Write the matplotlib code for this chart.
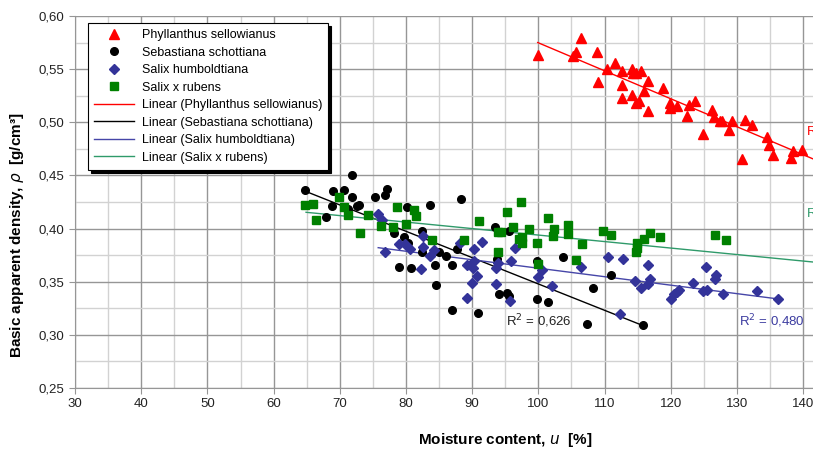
import matplotlib.pyplot as plt
import numpy as np
from matplotlib.ticker import MultipleLocator, FuncFormatter

plt.rcParams['font.family'] = ['Liberation Sans', 'DejaVu Sans']

# Phyllanthus sellowianus
phyl_u = [99.9, 106.5, 105.7, 105.3, 108.8, 109.0, 111.6, 110.4, 112.7, 114.2,
          112.7, 112.7, 114.2, 114.8, 115.5, 114.3, 115.2, 114.8, 116.6, 116.6,
          116.0, 118.9, 119.9, 119.9, 120.9, 122.7, 123.7, 122.5, 124.9, 126.2,
          126.6, 127.4, 127.7, 129.3, 128.8, 130.7, 131.2, 132.2, 134.5, 134.9,
          135.5, 138.1, 138.5, 139.8]
phyl_rho = [0.563, 0.579, 0.566, 0.562, 0.566, 0.538, 0.556, 0.550, 0.548, 0.550,
            0.535, 0.523, 0.526, 0.546, 0.548, 0.546, 0.520, 0.518, 0.539, 0.511,
            0.529, 0.532, 0.518, 0.513, 0.515, 0.516, 0.520, 0.506, 0.489, 0.512,
            0.505, 0.501, 0.501, 0.501, 0.493, 0.465, 0.502, 0.497, 0.486, 0.479,
            0.469, 0.466, 0.473, 0.474]

# Sebastiana schottiana
seba_u = [64.7, 69.0, 70.6, 71.9, 71.8, 68.8, 67.9, 71.3, 72.6, 72.9,
          75.3, 76.8, 77.2, 80.2, 83.6, 88.3, 82.4, 78.2, 79.7, 80.3,
          79.0, 80.7, 82.4, 84.4, 84.5, 85.0, 86.0, 86.9, 87.7, 87.0,
          90.9, 93.5, 95.5, 93.7, 94.0, 95.3, 95.6, 99.8, 99.8, 101.5,
          103.7, 107.4, 108.2, 111.0, 115.8]
seba_rho = [0.436, 0.435, 0.436, 0.450, 0.430, 0.421, 0.411, 0.418, 0.421, 0.422,
            0.430, 0.432, 0.437, 0.420, 0.422, 0.428, 0.398, 0.396, 0.392, 0.386,
            0.364, 0.363, 0.378, 0.366, 0.347, 0.378, 0.374, 0.366, 0.381, 0.323,
            0.321, 0.401, 0.398, 0.371, 0.338, 0.339, 0.337, 0.369, 0.334, 0.331,
            0.373, 0.310, 0.344, 0.356, 0.309]

# Salix humboldtiana
sahu_u = [75.7, 76.3, 76.8, 79.0, 79.8, 80.6, 82.5, 82.6, 82.3, 84.3,
          83.7, 88.2, 89.2, 89.9, 89.2, 90.2, 90.8, 91.5, 90.1, 90.3,
          93.6, 93.9, 93.6, 95.8, 95.7, 96.4, 99.9, 100.6, 102.1, 106.4,
          110.5, 112.8, 112.3, 114.6, 115.5, 116.5, 116.8, 116.6, 120.1, 120.5,
          120.9, 121.3, 123.3, 124.9, 125.4, 125.3, 126.7, 126.8, 127.9, 133.1,
          136.2]
sahu_rho = [0.414, 0.408, 0.378, 0.385, 0.385, 0.381, 0.393, 0.383, 0.362, 0.380,
            0.374, 0.386, 0.366, 0.349, 0.335, 0.381, 0.355, 0.387, 0.363, 0.369,
            0.348, 0.368, 0.363, 0.369, 0.332, 0.382, 0.354, 0.361, 0.346, 0.364,
            0.373, 0.371, 0.320, 0.351, 0.344, 0.366, 0.353, 0.348, 0.334, 0.338,
            0.340, 0.342, 0.349, 0.341, 0.342, 0.364, 0.353, 0.356, 0.338, 0.341,
            0.334]

# Salix x rubens
saru_u = [64.7, 66.0, 66.4, 69.9, 70.7, 71.3, 73.1, 74.2, 76.2, 78.0,
          78.6, 80.0, 81.2, 81.5, 84.0, 88.7, 91.1, 93.9, 94.3, 93.9,
          95.2, 96.1, 97.4, 97.0, 97.6, 97.5, 98.6, 99.8, 99.9, 101.5,
          102.4, 102.2, 104.4, 104.4, 106.6, 105.7, 109.8, 110.9, 114.9, 114.9,
          114.7, 116.0, 116.9, 118.4, 126.7, 128.4]
saru_rho = [0.422, 0.423, 0.408, 0.430, 0.420, 0.413, 0.396, 0.413, 0.402, 0.401,
            0.420, 0.404, 0.417, 0.412, 0.389, 0.389, 0.407, 0.397, 0.397, 0.378,
            0.416, 0.401, 0.425, 0.390, 0.392, 0.386, 0.400, 0.386, 0.367, 0.410,
            0.400, 0.393, 0.403, 0.395, 0.385, 0.370, 0.398, 0.394, 0.386, 0.382,
            0.378, 0.390, 0.396, 0.392, 0.394, 0.389]

# trend lines (start / end)
phyl_fit_u, phyl_fit_rho = [99.9, 142.0], [0.575, 0.4642]
seba_fit_u, seba_fit_rho = [65.2, 115.8], [0.4341, 0.3087]
sahu_fit_u, sahu_fit_rho = [75.8, 136.2], [0.382, 0.3338]
saru_fit_u, saru_fit_rho = [64.9, 142.0], [0.4153, 0.3682]

fig = plt.figure(figsize=(8.13, 4.55), dpi=100)
ax = fig.add_axes([0.0923, 0.1473, 0.977, 0.8176])

ax.plot(phyl_u, phyl_rho, ls='none', marker='^', ms=7.5, color='#ff0000', mec='#ff0000',
        label='Phyllanthus sellowianus', zorder=4)
ax.plot(seba_u, seba_rho, ls='none', marker='o', ms=5.5, color='black',
        label='Sebastiana schottiana', zorder=4)
ax.plot(sahu_u, sahu_rho, ls='none', marker='D', ms=5, color='#333399',
        label='Salix humboldtiana', zorder=4)
ax.plot(saru_u, saru_rho, ls='none', marker='s', ms=5.5, color='#008000',
        label='Salix x rubens', zorder=4)

ax.plot(phyl_fit_u, phyl_fit_rho, color='#ff0000', lw=1, label='Linear (Phyllanthus sellowianus)', zorder=3)
ax.plot(seba_fit_u, seba_fit_rho, color='black', lw=1, label='Linear (Sebastiana schottiana)', zorder=3)
ax.plot(sahu_fit_u, sahu_fit_rho, color='#4646a8', lw=1, label='Linear (Salix humboldtiana)', zorder=3)
ax.plot(saru_fit_u, saru_fit_rho, color='#2f9a6a', lw=1, label='Linear (Salix x rubens)', zorder=3)

ax.text(95.1, 0.3124, 'R$^2$ = 0,626', color='#222222', fontsize=9.5, va='center')
ax.text(130.3, 0.3124, 'R$^2$ = 0,480', color='#3c3ca0', fontsize=9.5, va='center')
ax.text(140.4, 0.492, 'R$^2$', color='#ff0000', fontsize=9.5, va='center')
ax.text(140.4, 0.4147, 'R$^2$', color='#2f9a6a', fontsize=9.5, va='center')

ax.set_xlim(30, 150)
ax.set_ylim(0.25, 0.60)
ax.xaxis.set_major_locator(MultipleLocator(10))
ax.xaxis.set_minor_locator(MultipleLocator(5))
ax.yaxis.set_major_locator(MultipleLocator(0.05))
ax.yaxis.set_minor_locator(MultipleLocator(0.025))
ax.yaxis.set_major_formatter(FuncFormatter(lambda v, p: '{:.2f}'.format(v).replace('.', ',')))
ax.xaxis.set_major_formatter(FuncFormatter(lambda v, p: '{:.0f}'.format(v)))
ax.grid(which='major', color='#969696', lw=1)
ax.grid(which='minor', color='#d2d2d2', lw=1)
ax.set_axisbelow(True)
ax.tick_params(which='major', length=4, color='#969696', labelsize=9.5, colors='#222222')
ax.tick_params(which='minor', length=0)
for s in ['top', 'right']:
    ax.spines[s].set_visible(False)
for s in ['left', 'bottom']:
    ax.spines[s].set_color('#969696')

ax.set_xlabel('Moisture content, $\\mathit{u}$  [%]', fontsize=11, fontweight='bold')
ax.xaxis.set_label_coords(0.5416, -0.115)
ax.set_ylabel('Basic apparent density, $\\rho$  [g/cm\u00b3]', fontsize=11, fontweight='bold')
ax.yaxis.set_label_coords(-0.062, 0.41)

leg = ax.legend(loc='upper left', bbox_to_anchor=(0.0164, 0.981), borderaxespad=0,
                fontsize=9, frameon=True, fancybox=False, edgecolor='black',
                framealpha=1, handlelength=3.2, handletextpad=0.6, labelspacing=0.44,
                borderpad=0.5, shadow={'color': 'black', 'alpha': 1})
leg.get_frame().set_linewidth(0.8)

fig.savefig('out.png', dpi=100)
